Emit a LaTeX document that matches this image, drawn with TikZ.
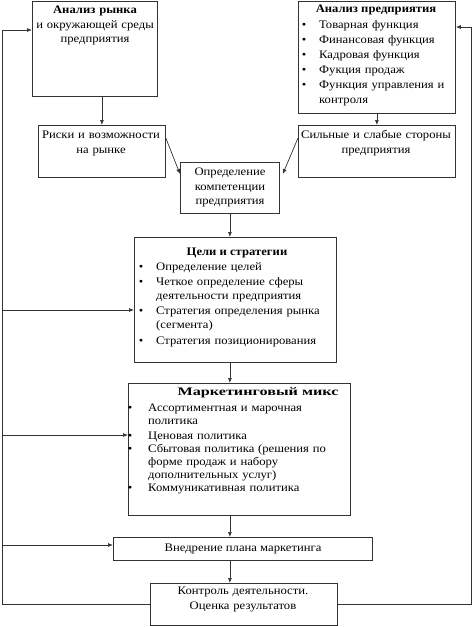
\documentclass[tikz,border=0pt]{standalone}
\usepackage{fontspec}
\usepackage{graphicx}
\setmainfont{Liberation Serif}[FakeStretch=1.1]
\usetikzlibrary{arrows.meta,calc}
\newcommand\bul[1][13pt]{\leavevmode\llap{\textbullet\hspace{#1}}}
\newcommand\jline[1]{\makebox[\linewidth][s]{#1}}
\tikzset{
  box/.style={draw=black!80, line width=0.8pt, inner sep=0pt, anchor=north west},
  arr/.style={draw=black!80, line width=0.7pt, -{Latex[length=5pt,width=4pt]}},
  ln/.style={draw=black!80, line width=0.7pt},
  txt/.style={inner sep=0pt, font=\fontsize{11.5}{14.5}\selectfont},
  ctxt/.style={txt, align=center, anchor=base, text width=#1},
}
\begin{document}
\begin{tikzpicture}[x=1pt,y=-1pt]
\useasboundingbox[fill=white] (0,0) rectangle (473,627);
% boxes
\node[box, minimum width=125pt, minimum height=95.5pt] (tl) at (32,0.5) {};
\node[box, minimum width=157pt, minimum height=112.5pt] (tr) at (298,0.5) {};
\node[box, minimum width=127pt, minimum height=52pt] (risks) at (38,125) {};
\node[box, minimum width=157pt, minimum height=52pt] (strong) at (298,125) {};
\node[box, minimum width=99pt, minimum height=51pt] (comp) at (180,162) {};
\node[box, minimum width=202pt, minimum height=125pt] (goals) at (134,237) {};
\node[box, minimum width=222pt, minimum height=132pt] (mix) at (128,383) {};
\node[box, minimum width=259pt, minimum height=23pt] (impl) at (113,537) {};
\node[box, minimum width=187pt, minimum height=42pt] (ctrl) at (150,583) {};
% texts
\node[ctxt=124pt] (tltext) at (95,13.5)
  {\textbf{Анализ рынка}\\и окружающей среды\\предприятия};
\node[txt, anchor=base] (trtitle) at (376,12.5) {\textbf{Анализ предприятия}};
\node[txt, align=left, anchor=base west, text width=134pt,
      font=\fontsize{11.5}{15}\selectfont] (trtext) at (319,28.5)
  {\bul Товарная функция\\
   \bul Финансовая функция\\
   \bul Кадровая функция\\
   \bul Фукция продаж\\
   \bul\jline{Функция управления и}\\
   контроля};
\node[ctxt=126pt] (riskstext) at (101,138.5)
  {Риски и возможности\\на рынке};
\node[ctxt=156pt] (strongtext) at (376,138.5)
  {Сильные и слабые стороны\\предприятия};
\node[ctxt=98pt] (comptext) at (230,175.5)
  {Определение\\компетенции\\предприятия};
\node[txt, anchor=base] (goalstitle) at (237,255.5) {\textbf{Цели и стратегии}};
\node[txt, align=left, anchor=base west, text width=177pt,
      font=\fontsize{11.5}{14}\selectfont] (goalstext) at (156,270.5)
  {\bul Определение целей\\[1pt]
   \bul\jline{Четкое определение сферы}\\
   деятельности предприятия\\[1pt]
   \bul\jline{Стратегия определения рынка}\\
   (сегмента)\\[2pt]
   \bul Стратегия позиционирования};
\node[txt, anchor=base] (mixtitle) at (258,395.5)
  {\scalebox{1.28}[1]{\textbf{Маркетинговый микс}}};
\node[txt, align=left, anchor=base west, text width=200pt,
      font=\fontsize{11.5}{12.8}\selectfont] (mixtext) at (148,411.5)
  {\bul[16pt]\jline{Ассортиментная и марочная}\\
   политика\\[2.5pt]
   \bul[16pt]Ценовая политика\\
   \bul[16pt]\jline{Сбытовая политика (решения по}\\
   \jline{форме продаж и набору}\\
   дополнительных услуг)\\[0.5pt]
   \bul[16pt]Коммуникативная политика};
\node[txt, anchor=base] (impltext) at (243,551.5) {Внедрение плана маркетинга};
\node[ctxt=186pt] (ctrltext) at (243,594.5)
  {Контроль деятельности.\\Оценка результатов};
% connectors
\draw[arr] (tl.south -| risks.north) -- (risks.north);
\draw[arr] (tr.south) -- (strong.north);
\draw[arr] ($(risks.north east)+(0,13)$) -- ($(comp.north west)+(0,12)$);
\draw[arr] ($(strong.north west)+(0,13)$) -- ($(comp.north east)+(3,12)$);
\draw[arr] (comp.south) -- (comp.south |- goals.north);
\draw[arr] (comp.south |- goals.south) -- (comp.south |- mix.north);
\draw[arr] (comp.south |- mix.south) -- (comp.south |- impl.north);
\draw[arr] (comp.south |- impl.south) -- (comp.south |- ctrl.north);
% feedback loops
\coordinate (lt) at (2,30);
\coordinate (lg) at (2,310);
\coordinate (lm) at (2,435);
\coordinate (li) at (2,545);
\coordinate (rt) at (471,27);
\draw[arr] (ctrl.west) -| (lt) -- (tl.west |- lt);
\draw[arr] (lg) -- (goals.west |- lg);
\draw[arr] (lm) -- (mix.west |- lm);
\draw[arr] (li) -- (impl.west |- li);
\draw[arr] (ctrl.east) -| (rt) -- (tr.east |- rt);
\end{tikzpicture}
\end{document}
